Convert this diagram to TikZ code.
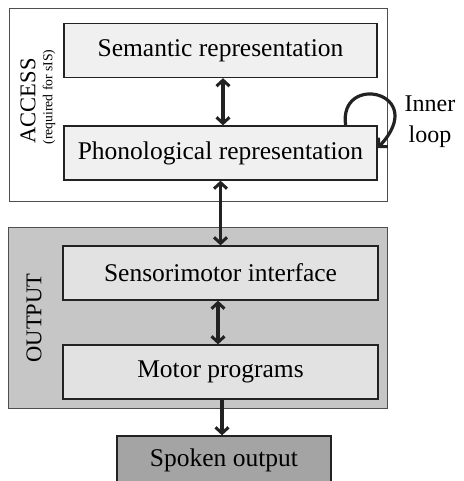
\documentclass[tikz,border=0pt]{standalone}
\usepackage{fontspec}
\setmainfont{Liberation Serif}
\usetikzlibrary{arrows.meta,positioning,calc}
\definecolor{edge}{HTML}{222222}
\definecolor{outfill}{HTML}{C6C6C6}
\definecolor{accfill}{HTML}{F0F0F0}
\definecolor{outboxfill}{HTML}{E2E2E2}
\definecolor{spokenfill}{HTML}{A4A4A4}
\tikzset{
  % Stage panels (ACCESS / OUTPUT)
  panel/.style={draw=edge!80,line width=0.9pt,anchor=north west,inner sep=0pt},
  panellb/.style={rotate=90,font=\fontsize{22.5}{26}\selectfont},
  % Processing boxes
  rep/.style={draw=edge,line width=1.3pt,fill=accfill,minimum width=313pt,
              minimum height=54pt,inner sep=0pt,font=\fontsize{25.5}{30}\selectfont},
  rep2/.style={rep,fill=outboxfill,minimum width=315pt},
  % Connectors
  link/.style={{Straight Barb[length=6pt,width=13pt,line width=3pt]}-{Straight Barb[length=6pt,width=13pt,line width=3pt]},
               line width=3.2pt,edge},
  flow/.style={-{Straight Barb[length=6pt,width=13pt,line width=3pt]},line width=3.2pt,edge}
}

\begin{document}
\begin{tikzpicture}[x=1pt,y=-1pt]
  \useasboundingbox (0,0) rectangle (463,481);

  % --- Panels ---
  \node[panel,minimum width=378pt,minimum height=193pt] (access) at (9,8) {};
  \node[panel,fill=outfill,minimum width=379pt,minimum height=181pt] (output) at (8,227) {};

  \node[panellb] (acclb) at (28,101) {ACCESS};
  \node[panellb,font=\fontsize{13.7}{16}\selectfont] (accsub) at (49,97) {(required for sIS)};
  \node[panellb] (outlb) at (34,318) {OUTPUT};

  % --- Boxes ---
  \node[rep]  (sem)    at (220.5,50.5) {Semantic representation};
  \node[rep]  (phono)  at (220.5,153)  {Phonological representation};
  \node[rep2] (sens)   at (220.5,273)  {Sensorimotor interface};
  \node[rep2] (motor)  at (220.5,372)  {Motor programs};
  \node[rep,fill=spokenfill,minimum width=214pt,minimum height=48pt] (spoken) at (224,460) {Spoken output};

  % --- Connectors ---
  \draw[link] ([xshift=2.5pt]sem.south)  -- ([xshift=2.5pt]phono.north);
  \draw[link] (phono.south) -- (sens.north);
  \draw[link] ([xshift=-2.5pt]sens.south) -- ([xshift=-2.5pt]motor.north);
  \draw[flow] ([xshift=1.5pt]motor.south) -- ([xshift=1.5pt]motor.south |- spoken.north);

  % Inner loop on the phonological level
  \draw[flow] ([xshift=-32pt]phono.north east) .. controls (338,72) and (430,92)
        .. ([yshift=5pt]phono.east);
  \node[align=center,font=\fontsize{24}{31}\selectfont] (looplb) at (430,122) {Inner\\loop};
\end{tikzpicture}
\end{document}
